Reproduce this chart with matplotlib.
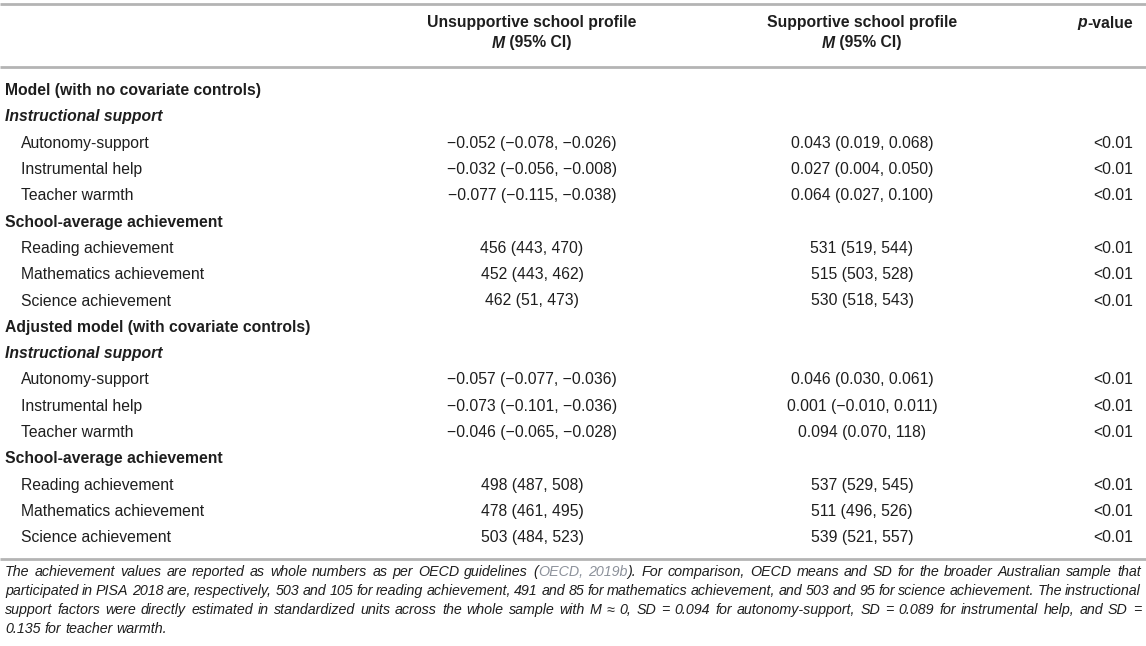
import matplotlib
matplotlib.use("Agg")
from matplotlib import pyplot as plt

# table content
row_labels = [
    "Model (with no covariate controls)", "Instructional support",
    "Autonomy-support", "Instrumental help", "Teacher warmth",
    "School-average achievement",
    "Reading achievement", "Mathematics achievement", "Science achievement",
    "Adjusted model (with covariate controls)", "Instructional support",
    "Autonomy-support", "Instrumental help", "Teacher warmth",
    "School-average achievement",
    "Reading achievement", "Mathematics achievement", "Science achievement",
]
row_levels = ["model", "group", "item", "item", "item", "model", "item", "item", "item",
              "model", "group", "item", "item", "item", "model", "item", "item", "item"]
unsupportive = [
    "", "",
    "−0.052 (−0.078, −0.026)", "−0.032 (−0.056, −0.008)", "−0.077 (−0.115, −0.038)",
    "", "456 (443, 470)", "452 (443, 462)", "462 (51, 473)",
    "", "",
    "−0.057 (−0.077, −0.036)", "−0.073 (−0.101, −0.036)", "−0.046 (−0.065, −0.028)",
    "", "498 (487, 508)", "478 (461, 495)", "503 (484, 523)",
]
supportive = [
    "", "",
    "0.043 (0.019, 0.068)", "0.027 (0.004, 0.050)", "0.064 (0.027, 0.100)",
    "", "531 (519, 544)", "515 (503, 528)", "530 (518, 543)",
    "", "",
    "0.046 (0.030, 0.061)", "0.001 (−0.010, 0.011)", "0.094 (0.070, 118)",
    "", "537 (529, 545)", "511 (496, 526)", "539 (521, 557)",
]
p_values = ["", "", "<0.01", "<0.01", "<0.01", "", "<0.01", "<0.01", "<0.01",
            "", "", "<0.01", "<0.01", "<0.01", "", "<0.01", "<0.01", "<0.01"]

footnote_lines = [
    "The achievement values are reported as whole numbers as per OECD guidelines "
    "(OECD, 2019b). For comparison, OECD means and SD for the broader Australian sample that",
    "participated in PISA 2018 are, respectively, 503 and 105 for reading achievement, "
    "491 and 85 for mathematics achievement, and 503 and 95 for science achievement. The instructional",
    "support factors were directly estimated in standardized units across the whole sample "
    "with M ≈ 0, SD = 0.094 for autonomy-support, SD = 0.089 for instrumental help, and SD =",
    "0.135 for teacher warmth.",
]
link_words = {"(OECD,": [("(", "k"), ("OECD,", "link")],
              "2019b).": [("2019b", "link"), (").", "k")]}

FONT = "Liberation Sans"
INK = "#1e1e1e"
LINK = "#8d929b"
RULE = "#b4b4b4"
W, H = 1146, 646

fig = plt.figure(figsize=(W / 100, H / 100), dpi=100)
ax = fig.add_axes([0, 0, 1, 1])
ax.set_xlim(0, W)
ax.set_ylim(H, 0)
ax.axis("off")
renderer = fig.canvas.get_renderer()


def text_width(s, **kw):
    t = ax.text(0, 0, s, fontfamily=FONT, **kw)
    w = t.get_window_extent(renderer).width
    t.remove()
    return w


def draw_runs(runs, x, y, ha="left", size=11.3):
    """runs: list of (text, style dict); drawn side by side"""
    widths = [text_width(s, fontsize=size, **st) for s, st in runs]
    total = sum(widths)
    if ha == "center":
        x -= total / 2
    elif ha == "right":
        x -= total
    for (s, st), w in zip(runs, widths):
        ax.text(x, y, s, fontfamily=FONT, fontsize=size, color=st.get("color", INK),
                fontweight=st.get("fontweight", "normal"), fontstyle=st.get("fontstyle", "normal"),
                va="center", ha="left")
        x += w


# rules
for yy in (4, 67, 559):
    ax.plot([0, W], [yy, yy], color=RULE, lw=2, solid_capstyle="butt")

# header
b = dict(fontweight="bold")
bi = dict(fontweight="bold", fontstyle="italic")
col_unsup, col_sup, col_p = 532, 862, 1133
draw_runs([("Unsupportive school profile", b)], col_unsup, 23, "center")
draw_runs([("M", bi), (" (95% CI)", b)], col_unsup, 43, "center")
draw_runs([("Supportive school profile", b)], col_sup, 23, "center")
draw_runs([("M", bi), (" (95% CI)", b)], col_sup, 43, "center")
draw_runs([("p", bi), ("-value", b)], col_p, 23, "right")

# body
y0, dy = 90.6, 26.3
for i, (lab, lvl) in enumerate(zip(row_labels, row_levels)):
    y = y0 + i * dy
    if lvl == "model":
        draw_runs([(lab, b)], 5, y)
    elif lvl == "group":
        draw_runs([(lab, bi)], 5, y)
    else:
        draw_runs([(lab, {})], 21, y)
    if unsupportive[i]:
        draw_runs([(unsupportive[i], {})], col_unsup, y, "center")
    if supportive[i]:
        draw_runs([(supportive[i], {})], col_sup, y, "center")
    if p_values[i]:
        draw_runs([(p_values[i], {})], col_p, y, "right")

# footnote, justified like the journal layout
fn_size = 10.3
it = dict(fontstyle="italic")
left, right = 5, 1141
space_w = text_width("a a", fontsize=fn_size, **it) - text_width("aa", fontsize=fn_size, **it)
for j, line in enumerate(footnote_lines):
    y = 572 + j * 19
    words = line.split(" ")
    tokens = []
    for wd in words:
        if wd in link_words:
            tokens.append([(s, dict(it, color=LINK if c == "link" else INK)) for s, c in link_words[wd]])
        else:
            tokens.append([(wd, it)])
    widths = [sum(text_width(s, fontsize=fn_size, **st) for s, st in tok) for tok in tokens]
    if j < len(footnote_lines) - 1:
        gap = (right - left - sum(widths)) / (len(tokens) - 1)
    else:
        gap = space_w
    x = left
    for tok, w in zip(tokens, widths):
        draw_runs(tok, x, y, "left", size=fn_size)
        x += w + gap

fig.savefig("out.png", dpi=100, facecolor="white")
